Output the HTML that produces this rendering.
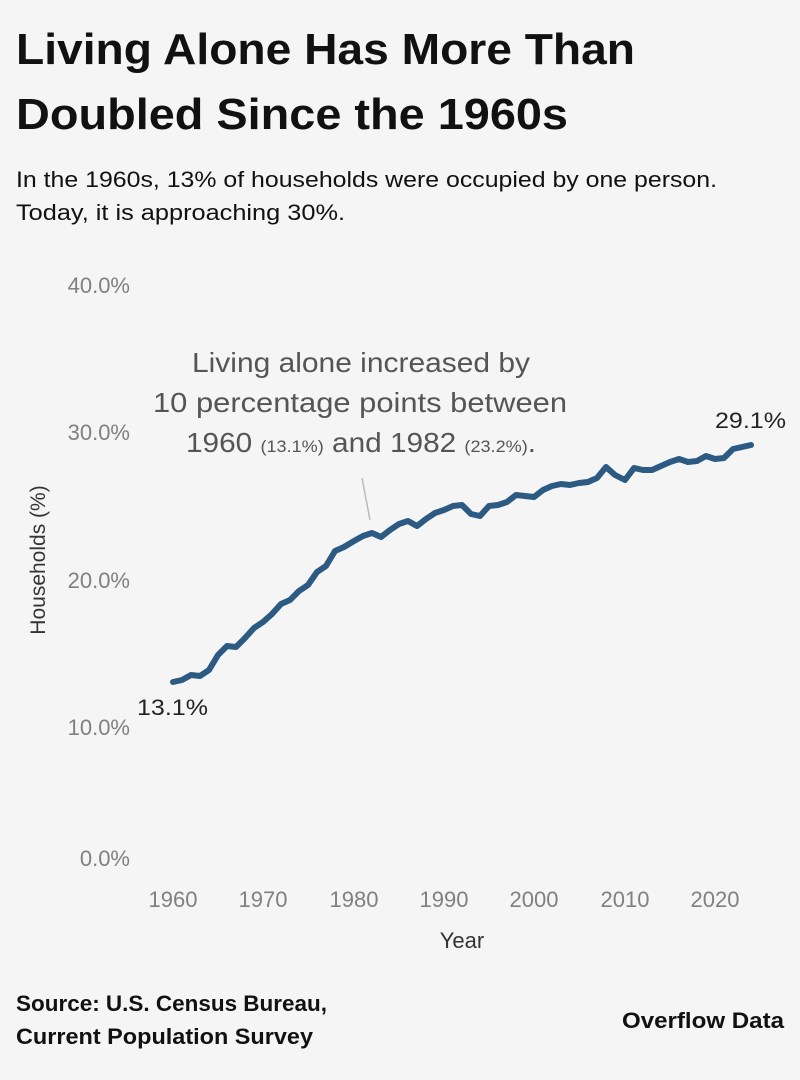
<!DOCTYPE html>
<html><head><meta charset="utf-8"><style>
body{margin:0;background:#f5f5f5;width:800px;height:1080px;overflow:hidden;font-family:"Liberation Sans","DejaVu Sans",sans-serif;}
</style></head><body>
<svg width="800" height="1080" xmlns="http://www.w3.org/2000/svg" style="position:absolute;left:0;top:0">
<rect width="800" height="1080" fill="#f5f5f5"/>
<g font-family="Liberation Sans, DejaVu Sans, sans-serif" fill="#111">
<text x="16" y="64" font-size="44" font-weight="bold" textLength="619" lengthAdjust="spacingAndGlyphs">Living Alone Has More Than</text>
<text x="16" y="129" font-size="44" font-weight="bold" textLength="552" lengthAdjust="spacingAndGlyphs">Doubled Since the 1960s</text>
<text x="16" y="187" font-size="22" textLength="701" lengthAdjust="spacingAndGlyphs">In the 1960s, 13% of households were occupied by one person.</text>
<text x="16" y="220" font-size="22" textLength="329" lengthAdjust="spacingAndGlyphs">Today, it is approaching 30%.</text>
</g>
<g font-family="Liberation Sans, DejaVu Sans, sans-serif" font-size="22" fill="#808080" text-anchor="end">
<text x="130" y="293">40.0%</text>
<text x="130" y="440">30.0%</text>
<text x="130" y="588">20.0%</text>
<text x="130" y="735">10.0%</text>
<text x="130" y="866">0.0%</text>
</g>
<g font-family="Liberation Sans, DejaVu Sans, sans-serif" font-size="22" fill="#808080" text-anchor="middle">
<text x="173" y="907">1960</text><text x="263" y="907">1970</text><text x="354" y="907">1980</text>
<text x="444" y="907">1990</text><text x="534" y="907">2000</text><text x="625" y="907">2010</text><text x="715" y="907">2020</text>
</g>
<text x="462" y="948" font-size="22" fill="#333" text-anchor="middle" font-family="Liberation Sans, sans-serif">Year</text>
<text transform="translate(45,560) rotate(-90)" font-size="21" fill="#333" text-anchor="middle" font-family="Liberation Sans, sans-serif">Households (%)</text>
<line x1="362" y1="478" x2="370" y2="520" stroke="#bbb" stroke-width="1.5"/>
<g font-family="Liberation Sans, DejaVu Sans, sans-serif" fill="#555">
<text x="192" y="372" font-size="28" textLength="338" lengthAdjust="spacingAndGlyphs">Living alone increased by</text>
<text x="153" y="412" font-size="28" textLength="414" lengthAdjust="spacingAndGlyphs">10 percentage points between</text>
<text x="186" y="452" font-size="28" textLength="350" lengthAdjust="spacingAndGlyphs">1960 <tspan font-size="17">(13.1%)</tspan> and 1982 <tspan font-size="17">(23.2%)</tspan>.</text>
</g>
<polyline fill="none" stroke="#2c5a82" stroke-width="6" stroke-linejoin="round" stroke-linecap="round" points="173,682 182,680 191,675 200,676 209,670 218,655 227,646 236,647 245,638 254,628 263,622 272,614 281,604 290,600 299,591 308,585 317,572 326,566 335,551 344,547 354,541 363,536 372,533 381,537 390,530 399,524 408,521 417,526 426,519 435,513 444,510 453,506 462,505 471,514 480,516 489,506 498,505 507,502 516,495 525,496 534,497 543,490 552,486 561,484 570,485 579,483 588,482 597,478 606,467 615,475 625,480 634,468 643,470 652,470 661,466 670,462 679,459 688,462 697,461 706,456 715,459 724,458 733,449 742,447 751,445"/>
<g font-family="Liberation Sans, DejaVu Sans, sans-serif" font-size="22" fill="#222">
<text x="137" y="715" textLength="71" lengthAdjust="spacingAndGlyphs">13.1%</text>
<text x="715" y="428" textLength="71" lengthAdjust="spacingAndGlyphs">29.1%</text>
</g>
<g font-family="Liberation Sans, DejaVu Sans, sans-serif" font-size="22" font-weight="bold" fill="#111">
<text x="16" y="1011" textLength="311" lengthAdjust="spacingAndGlyphs">Source: U.S. Census Bureau,</text>
<text x="16" y="1044" textLength="297" lengthAdjust="spacingAndGlyphs">Current Population Survey</text>
<text x="622" y="1028" textLength="162" lengthAdjust="spacingAndGlyphs">Overflow Data</text>
</g>
</svg>
</body></html>
